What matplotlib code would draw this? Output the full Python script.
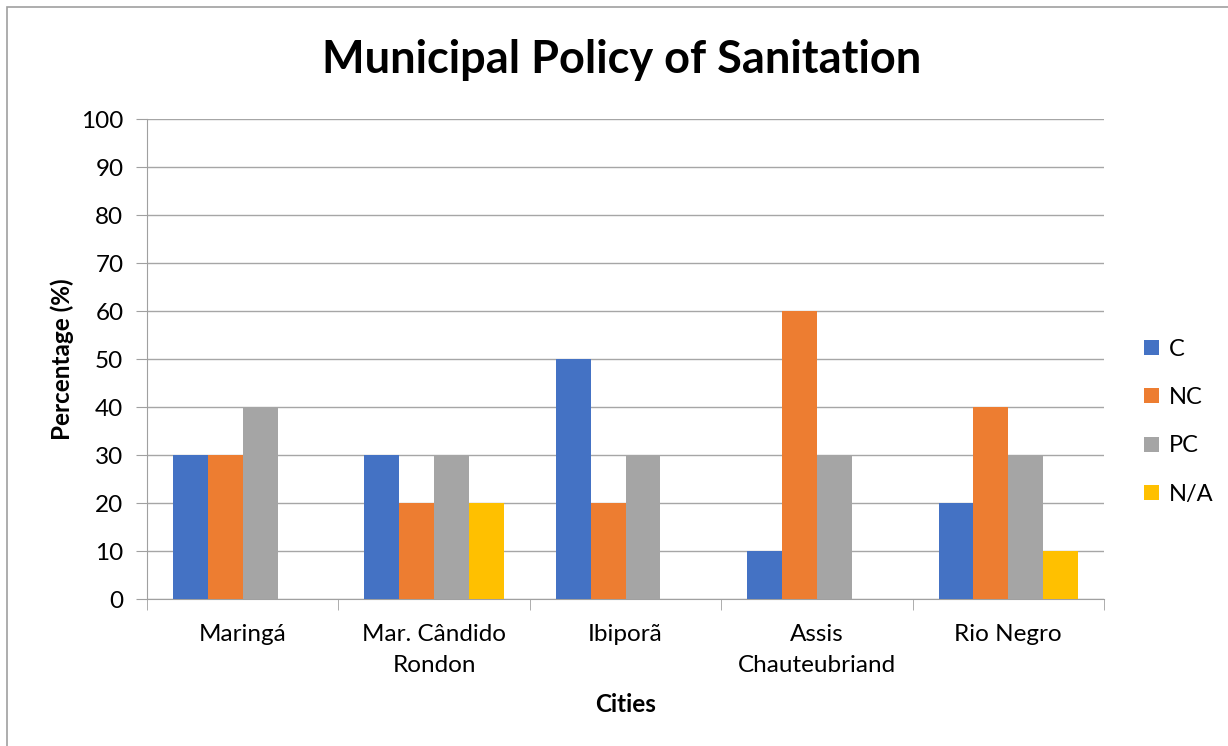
import numpy as np
import matplotlib.pyplot as plt
from matplotlib.patches import Rectangle

# Dane
miasta = ["Maringá", "Mar. Cândido\nRondon", "Ibiporã", "Assis\nChauteubriand", "Rio Negro"]
serie = ["C", "NC", "PC", "N/A"]
wartosci_C = [30, 30, 50, 10, 20]
wartosci_NC = [30, 20, 20, 60, 40]
wartosci_PC = [40, 30, 30, 30, 30]
wartosci_NA = [0, 20, 0, 0, 10]
kolory = ["#4472C4", "#ED7D31", "#A5A5A5", "#FFC000"]

plt.rcParams['font.family'] = ['Lato', 'DejaVu Sans']

figura = plt.figure(figsize=(12.28, 7.46), dpi=100)
os = figura.add_axes([147 / 1228, 1 - 599 / 746, (1104 - 147) / 1228, (599 - 119) / 746])

# Ramka wokół wykresu
figura.patches.append(Rectangle((7 / 1228, -0.1), 1.2, 1 - 7 / 746 + 0.1,
                                transform=figura.transFigure, fill=False,
                                edgecolor="#A0A0A0", lw=1.2))

x = np.arange(len(miasta))
szer = 0.182
for i, (dane, kolor, nazwa) in enumerate(zip([wartosci_C, wartosci_NC, wartosci_PC, wartosci_NA], kolory, serie)):
    os.bar(x + (i - 1.5) * szer, dane, width=szer, color=kolor, label=nazwa, zorder=3)

os.set_xlim(-0.5, len(miasta) - 0.5)
os.set_ylim(0, 100)
os.set_yticks(range(0, 101, 10))
os.tick_params(axis='y', labelsize=17.5, length=8, color="#A0A0A0", pad=9)
os.set_xticks(x)
os.set_xticklabels(miasta, fontsize=17.5, linespacing=1.6)
os.set_xticks(np.arange(-0.5, len(miasta)), minor=True)
os.tick_params(axis='x', which='major', length=0, pad=18)
os.tick_params(axis='x', which='minor', length=8, color="#A0A0A0")
os.grid(axis='y', color="#A6A6A6", lw=1, zorder=0)

for s in ["top", "right"]:
    os.spines[s].set_visible(False)
os.spines["left"].set_color("#A0A0A0")
os.spines["bottom"].set_color("#A0A0A0")

os.set_ylabel("Percentage (%)", fontsize=17.5, fontweight='bold', labelpad=5)
os.set_xlabel("Cities", fontsize=17.5, fontweight='bold', labelpad=12)
figura.text(622 / 1228, 1 - 60 / 746, "Municipal Policy of Sanitation", fontsize=32.5,
            fontweight='bold', ha='center', va='center')

os.legend(loc='center left', bbox_to_anchor=(1.02, 0.369), frameon=False, fontsize=17,
          handlelength=0.6, handleheight=0.6, labelspacing=1.15, handletextpad=0.45)

figura.savefig("out.png", dpi=100)
